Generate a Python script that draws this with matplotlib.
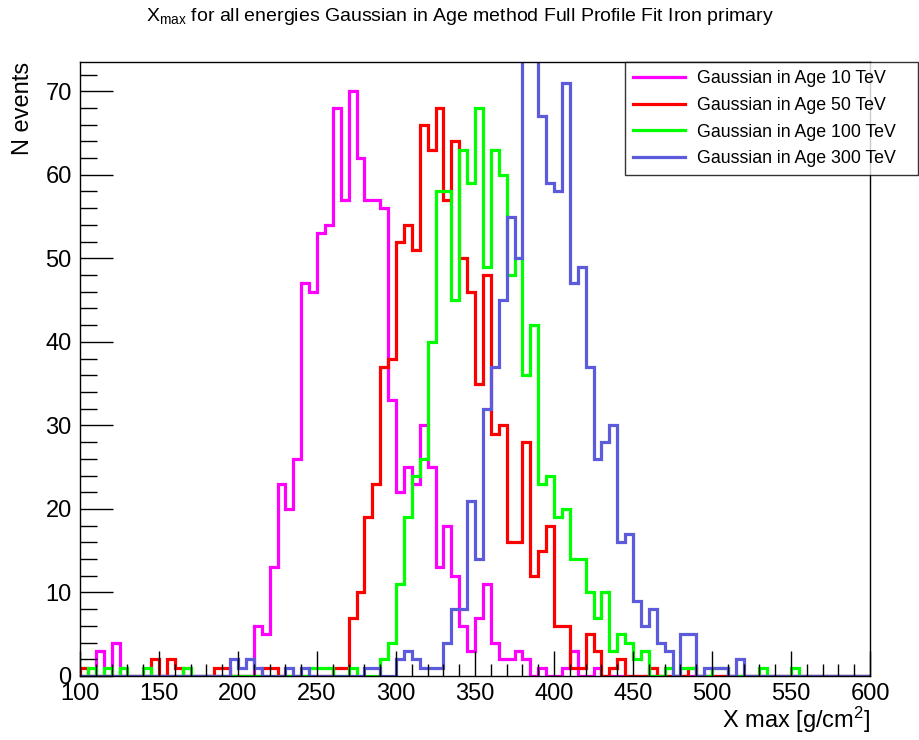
import matplotlib
matplotlib.use("Agg")
import matplotlib.pyplot as plt
import numpy as np
from matplotlib.lines import Line2D
from matplotlib.ticker import MultipleLocator

plt.rcParams["font.family"] = ["Liberation Sans", "DejaVu Sans"]
plt.rcParams["mathtext.fontset"] = "custom"
plt.rcParams["mathtext.rm"] = "Liberation Sans"
plt.rcParams["mathtext.default"] = "regular"

# 100 bins of 5 g/cm2 between 100 and 600
bin_edges = np.arange(100, 605, 5)

counts_10tev = [
    0, 0, 3, 0, 4, 0, 0, 0, 0, 0,
    0, 0, 0, 0, 0, 0, 0, 0, 0, 0,
    0, 0, 6, 5, 13, 23, 20, 26, 47, 46,
    53, 54, 68, 57, 70, 62, 57, 57, 56, 33,
    22, 25, 23, 30, 25, 13, 18, 12, 6, 3,
    7, 11, 4, 2, 2, 3, 2, 0, 1, 0,
    0, 1, 3, 0, 0, 1, 0, 0, 0, 0,
    0, 0, 0, 0, 0, 0, 0, 0, 0, 0,
    0, 0, 0, 0, 0, 0, 0, 0, 0, 0,
    0, 0, 0, 0, 0, 0, 0, 0, 0, 0,
]
counts_50tev = [
    1, 0, 0, 0, 0, 0, 0, 0, 0, 2,
    0, 2, 1, 0, 0, 0, 0, 1, 1, 0,
    0, 0, 0, 1, 1, 0, 0, 0, 0, 0,
    0, 0, 1, 1, 7, 10, 19, 23, 37, 38,
    52, 54, 51, 66, 63, 68, 57, 64, 50, 46,
    35, 48, 29, 30, 16, 16, 28, 12, 15, 18,
    6, 6, 1, 1, 5, 3, 0, 1, 2, 0,
    0, 0, 1, 0, 0, 0, 0, 1, 0, 0,
    0, 0, 0, 0, 0, 0, 0, 0, 0, 0,
    0, 0, 0, 0, 0, 0, 0, 0, 0, 0,
]
counts_100tev = [
    0, 1, 0, 1, 0, 1, 0, 0, 1, 0,
    0, 0, 0, 1, 0, 0, 0, 0, 0, 0,
    0, 0, 0, 0, 0, 0, 0, 0, 0, 1,
    1, 1, 0, 0, 1, 0, 0, 0, 2, 4,
    11, 19, 24, 26, 40, 58, 58, 45, 63, 59,
    68, 49, 63, 60, 48, 50, 36, 42, 23, 24,
    19, 20, 14, 14, 10, 7, 10, 3, 5, 4,
    2, 3, 0, 0, 1, 0, 1, 1, 0, 0,
    1, 1, 0, 0, 0, 0, 1, 0, 0, 0,
    1, 0, 0, 0, 0, 0, 0, 0, 0, 0,
]
counts_300tev = [
    0, 0, 0, 0, 0, 0, 0, 0, 0, 0,
    0, 0, 0, 0, 0, 0, 0, 0, 0, 2,
    1, 2, 1, 0, 0, 0, 1, 0, 1, 0,
    0, 0, 0, 0, 0, 0, 1, 1, 0, 0,
    2, 3, 2, 1, 1, 1, 4, 8, 8, 21,
    14, 32, 37, 45, 55, 50, 78, 76, 67, 59,
    58, 71, 47, 49, 37, 26, 28, 30, 16, 17,
    9, 6, 8, 4, 3, 0, 5, 5, 0, 1,
    1, 1, 0, 2, 0, 0, 0, 0, 0, 0,
    0, 0, 0, 0, 0, 0, 0, 0, 0, 0,
]

labels = [
    "Gaussian in Age 10 TeV",
    "Gaussian in Age 50 TeV",
    "Gaussian in Age 100 TeV",
    "Gaussian in Age 300 TeV",
]
colors = ["#ff00ff", "#ff0000", "#00ff00", "#5b5bdc"]

fig = plt.figure(figsize=(9.19, 7.40), dpi=100)
ax = fig.add_axes([80 / 919, 64 / 740, 790 / 919, 614 / 740])

for counts, label, color in zip(
    [counts_10tev, counts_50tev, counts_100tev, counts_300tev], labels, colors
):
    ax.stairs(counts, bin_edges, baseline=0, color=color, linewidth=2.3,
              label=label)

ax.set_xlim(100, 600)
ax.set_ylim(0, 1.05 * max(counts_10tev))

ax.xaxis.set_major_locator(MultipleLocator(50))
ax.xaxis.set_minor_locator(MultipleLocator(10))
ax.yaxis.set_major_locator(MultipleLocator(10))
ax.yaxis.set_minor_locator(MultipleLocator(2))
ax.tick_params(axis="both", which="both", direction="in", top=False,
               right=False, labelsize=17, width=1)
ax.tick_params(axis="x", which="major", length=18, pad=5)
ax.tick_params(axis="x", which="minor", length=9)
ax.tick_params(axis="y", which="major", length=24, pad=6)
ax.tick_params(axis="y", which="minor", length=12)
for s in ax.spines.values():
    s.set_linewidth(1.0)

ax.set_xlabel("X max [g/cm$^2$]", fontsize=17, loc="right", labelpad=0)
ax.set_ylabel("N events", fontsize=17, loc="top", labelpad=8)

fig.text(0.5, 0.978,
         "X$_{max}$ for all energies Gaussian in Age method Full Profile Fit Iron primary",
         ha="center", va="center", fontsize=14)

# legend box hangs off the right edge of the frame
leg_handles = [Line2D([], [], color=c, linewidth=2.3) for c in colors]
leg = fig.legend(leg_handles, labels, loc="upper left",
                 bbox_to_anchor=(625 / 919, 1 - 178 / 740, 293 / 919, 116 / 740),
                 mode="expand", fontsize=12.8, frameon=True, fancybox=False,
                 edgecolor="black", handlelength=2.9, handletextpad=0.7,
                 labelspacing=0.55, borderpad=0.45, borderaxespad=0)
leg.get_frame().set_linewidth(1.0)

fig.savefig("out.png", dpi=100)
